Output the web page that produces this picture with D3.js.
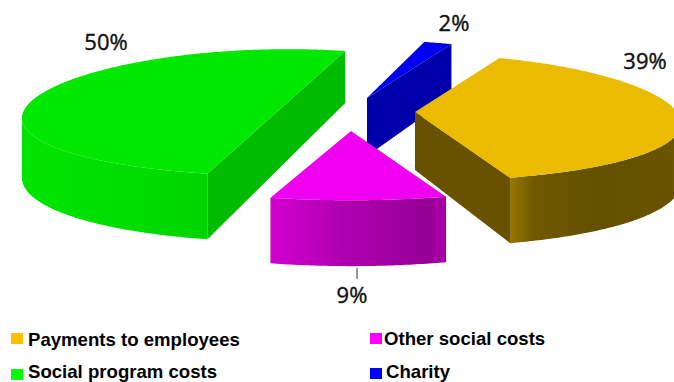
<!DOCTYPE html>
<html>
<head>
<meta charset="utf-8">
<style>
  html, body { margin: 0; padding: 0; background: #fff; }
  svg { display: block; }
</style>
<script src="https://cdn.jsdelivr.net/npm/d3@7"></script>
</head>
<body>
<script>
// Slices in clockwise drawing order
const categories = ["Payments to employees", "Other social costs", "Social program costs", "Charity"];
const shares = [39, 9, 50, 2];

// Face colours per slice
const topColors = ["#ebbb00", "#f000f0", "#00e800", "#0000f0"];
const wallColors = ["#685200", "#990099", "#00bb00", "#0000aa"];
const swatchColors = ["#ffc000", "#ff00ff", "#00ff00", "#0000ff"];
const rimStops = [
  [[512, "#917500"], [535, "#6f5800"], [600, "#645000"], [674, "#6a5400"]],
  [[272, "#d000d0"], [340, "#b000b0"], [432, "#940094"], [434, "#a400a4"], [443, "#a000a0"]],
  [[22, "#00e400"], [120, "#00de00"], [203, "#00d400"]],
  [[420, "#0000aa"], [450, "#0000aa"]]
];

// Layout: exploded slice apexes, label anchors, legend slots, drawing order
const apexes = [[415, 112], [351, 131], [288, 107], [367, 98]];
const labelSpots = [[645, 69], [352, 303], [106, 50], [454, 31]];
const legendSpots = [[11, 333, 28, 346], [370, 333, 384, 345], [11, 369, 28, 378], [370, 368, 386, 378]];
const paintOrder = [3, 2, 0, 1];

// Perspective settings for the tilted disc
const radiusX = 262, radiusY = 63, depth = 58;
const perspX = 0.175, perspY = 0.09, perspDrop = 0.12;
const firstAngle = 22 * Math.PI / 180;

const width = 674, height = 382;
const svg = d3.select("body").append("svg").attr("width", width).attr("height", height);
const defs = svg.append("defs");

const arcs = d3.pie().sort(null).startAngle(firstAngle).endAngle(firstAngle + 2 * Math.PI)(shares);

// Angle measured clockwise from the far side of the disc, mapped to offsets from the apex
function project(angle) {
  const u = Math.sin(angle), v = -Math.cos(angle);
  const sx = 1 / (1 - perspX * v), sy = 1 / (1 - perspY * v);
  return { x: radiusX * u * sx, y: radiusY * v * sy, drop: depth / (1 - perspDrop * v) };
}

const outline = d3.line();
const angleSteps = a => d3.range(0, 1 + 1e-9, 1 / Math.ceil((a.endAngle - a.startAngle) * 90))
  .map(t => a.startAngle + t * (a.endAngle - a.startAngle));

paintOrder.forEach(i => {
  const a = arcs[i], [cx, cy] = apexes[i];
  const g = svg.append("g");
  const top = p => [cx + p.x, cy + p.y];
  const low = p => [cx + p.x, cy + p.y + p.drop];
  const rimAngles = angleSteps(a);
  const isHalf = a.endAngle - a.startAngle >= Math.PI - 1e-6;

  // Curved outer rim, shaded left to right; it turns out of sight where the
  // projected outline reaches its widest point
  const gradId = "rim" + i;
  const stops = rimStops[i];
  const lo = stops[0][0], hi = stops[stops.length - 1][0];
  const grad = defs.append("linearGradient").attr("id", gradId)
    .attr("gradientUnits", "userSpaceOnUse")
    .attr("x1", lo).attr("x2", hi).attr("y1", 0).attr("y2", 0);
  stops.forEach(s => grad.append("stop").attr("offset", (s[0] - lo) / (hi - lo)).attr("stop-color", s[1]));
  const front = rimAngles.filter(t => Math.cos(t) < -perspX).map(project);
  if (front.length > 1) {
    g.append("path")
      .attr("d", outline(front.map(top).concat(front.slice().reverse().map(low))) + "Z")
      .attr("fill", `url(#${gradId})`);
  }

  // Straight walls that face the viewer; a half disc has one flat wall across its diameter
  const centre = { x: 0, y: 0, drop: depth };
  const first = project(a.startAngle), last = project(a.endAngle);
  if (isHalf) {
    g.append("path")
      .attr("d", outline([top(first), top(last), low(last), low(first)]) + "Z")
      .attr("fill", wallColors[i]);
  } else {
    const walls = [];
    if (-Math.sin(a.startAngle) > 0.01) walls.push(first);
    if (Math.sin(a.endAngle) > 0.01) walls.push(last);
    walls.forEach(p => {
      g.append("path")
        .attr("d", outline([top(centre), top(p), low(p), low(centre)]) + "Z")
        .attr("fill", wallColors[i]);
    });
  }

  // Upper face
  const rimTop = rimAngles.map(project).map(top);
  g.append("path")
    .attr("d", outline(isHalf ? rimTop : [top(centre)].concat(rimTop)) + "Z")
    .attr("fill", topColors[i]);
});

// Short leader under the smaller front slice
svg.append("line").attr("x1", 357).attr("x2", 357).attr("y1", 268).attr("y2", 279)
  .attr("stroke", "#333").attr("stroke-width", 1);

// Percentage labels
svg.append("g").selectAll("text").data(shares).join("text")
  .attr("x", (d, i) => labelSpots[i][0])
  .attr("y", (d, i) => labelSpots[i][1])
  .attr("text-anchor", "middle")
  .attr("font-family", "'Open Sans', 'Noto Sans', sans-serif")
  .attr("font-size", 22)
  .attr("stroke", "#111")
  .attr("stroke-width", 0.4)
  .attr("fill", "#111")
  .text(d => d + "%");

// Legend
const legend = svg.append("g").selectAll("g").data(categories).join("g");
legend.append("rect")
  .attr("x", (d, i) => legendSpots[i][0])
  .attr("y", (d, i) => legendSpots[i][1])
  .attr("width", 12).attr("height", 11)
  .attr("fill", (d, i) => swatchColors[i]);
legend.append("text")
  .attr("x", (d, i) => legendSpots[i][2])
  .attr("y", (d, i) => legendSpots[i][3])
  .attr("font-family", "'Liberation Sans', Arial, sans-serif")
  .attr("font-weight", "bold")
  .attr("font-size", 18.6)
  .attr("fill", "#000")
  .text(d => d);
</script>
</body>
</html>
